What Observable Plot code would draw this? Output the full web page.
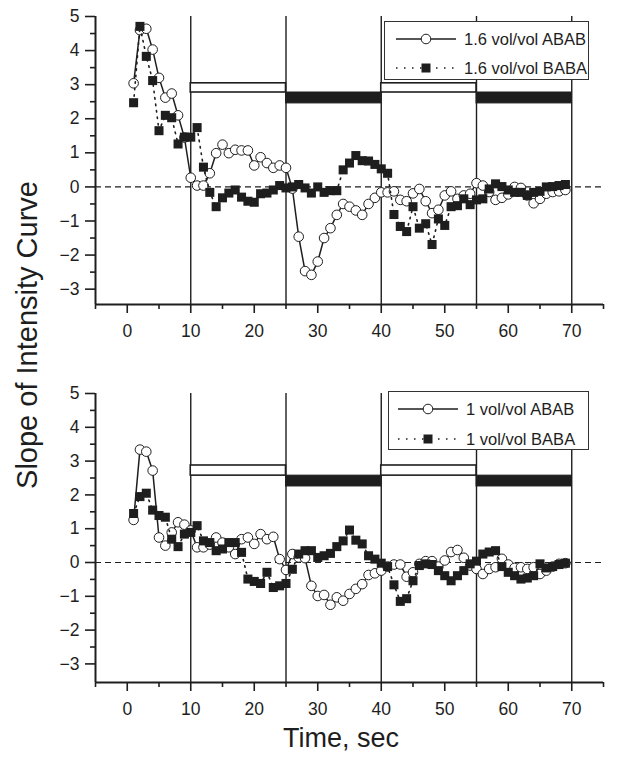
<!DOCTYPE html>
<html>
<head>
<meta charset="utf-8">
<script src="https://cdn.jsdelivr.net/npm/d3@7"></script>
<script src="https://cdn.jsdelivr.net/npm/@observablehq/plot@0.6"></script>
<style>
  html, body { margin: 0; padding: 0; background: #ffffff; }
  #wrap { position: relative; width: 643px; height: 758px; font-family: "Liberation Sans", Arial, sans-serif; color: #1e1e1e; overflow: hidden; }
  .panel { position: absolute; left: 0; }
  .legend { position: absolute; background: #fff; border: 1.4px solid #333; box-sizing: border-box; z-index: 5; }
  .row { position: absolute; left: 0; height: 24px; display: flex; align-items: center; font-size: 16.5px; white-space: nowrap; }
  .row svg { display: block; }
  .ytitle { position: absolute; left: 27px; top: 335px; transform: translate(-50%, -50%) rotate(-90deg); font-size: 29px; white-space: nowrap; }
  .xtitle { position: absolute; left: 341px; top: 738px; transform: translate(-50%, -50%); font-size: 27px; white-space: nowrap; }
</style>
</head>
<body>
<div id="wrap">
  <div class="ytitle">Slope of Intensity Curve</div>
  <div class="xtitle">Time, sec</div>
</div>
<script>
// ---------- data ----------
const seconds = [1,2,3,4,5,6,7,8,9,10,11,12,13,14,15,16,17,18,19,20,21,22,23,24,25,26,27,28,29,30,31,32,33,34,35,36,37,38,39,40,41,42,43,44,45,46,47,48,49,50,51,52,53,54,55,56,57,58,59,60,61,62,63,64,65,66,67,68,69];

const topABAB = [3.04,4.60,4.64,4.03,3.20,2.62,2.74,2.10,1.45,0.27,0.04,0.04,0.40,0.99,1.24,0.99,1.09,1.07,1.07,0.63,0.87,0.70,0.56,0.63,0.56,-0.05,-1.46,-2.47,-2.58,-2.19,-1.50,-1.21,-0.82,-0.50,-0.58,-0.69,-0.82,-0.50,-0.32,-0.16,-0.16,-0.13,-0.38,-0.42,-0.19,-0.06,-0.42,-0.77,-0.67,-0.25,-0.13,-0.35,-0.25,-0.20,0.11,0.04,-0.15,-0.38,-0.32,-0.22,0.00,-0.03,-0.25,-0.48,-0.35,-0.20,-0.15,-0.13,-0.09];
const topBABA = [2.47,4.71,3.83,3.12,1.65,2.10,2.03,1.26,1.46,1.46,1.74,0.58,-0.16,-0.58,-0.32,-0.18,-0.09,-0.30,-0.42,-0.45,-0.20,-0.18,-0.09,0.04,-0.03,0.00,0.07,-0.03,-0.18,0.00,-0.16,-0.11,-0.11,0.50,0.70,0.92,0.77,0.76,0.66,0.53,0.40,-0.81,-1.16,-1.31,-0.58,-1.21,-1.08,-1.69,-0.94,-1.13,-0.58,-0.55,-0.35,-0.52,-0.38,-0.35,-0.06,0.09,0.01,-0.09,-0.16,-0.16,-0.25,-0.16,-0.13,0.00,0.01,0.04,0.07];

const bottomABAB = [1.26,3.34,3.28,2.72,0.74,0.50,0.89,1.19,1.12,0.95,0.45,0.45,0.53,0.74,0.59,0.45,0.25,0.69,0.74,0.55,0.84,0.69,0.76,0.10,-0.22,0.25,0.15,0.13,-0.69,-0.99,-0.96,-1.25,-1.03,-1.13,-0.93,-0.78,-0.64,-0.37,-0.32,-0.24,-0.12,-0.06,-0.06,-0.42,-0.29,-0.04,0.04,0.04,-0.12,0.06,0.31,0.37,0.14,-0.09,-0.19,-0.34,-0.19,-0.14,0.11,-0.06,-0.16,-0.14,-0.19,-0.14,-0.34,-0.24,-0.12,-0.04,-0.02];
const bottomBABA = [1.45,1.95,2.05,1.55,1.39,1.34,0.69,0.47,0.84,0.89,1.09,0.64,0.59,0.35,0.40,0.59,0.59,0.30,-0.49,-0.56,-0.62,-0.29,-0.74,-0.69,-0.62,-0.20,0.25,0.35,0.35,0.15,0.20,0.27,0.47,0.64,0.96,0.66,0.55,0.20,0.10,-0.02,-0.12,-0.66,-1.15,-1.07,-0.54,-0.09,-0.04,-0.06,-0.24,-0.39,-0.54,-0.39,-0.24,-0.04,0.04,0.25,0.31,0.35,-0.12,-0.29,-0.39,-0.49,-0.46,-0.39,-0.04,-0.16,-0.12,-0.06,-0.02];

const phaseBoundaries = [10, 25, 40, 55, 70];
const openPhaseStart = [10, 40];
const openPhaseEnd = [25, 55];
const filledPhaseStart = [25, 55];
const filledPhaseEnd = [40, 70];

const xMajorTicks = [0, 10, 20, 30, 40, 50, 60, 70];
const xMinorTicks = [-5, 5, 15, 25, 35, 45, 55, 65, 75];
const yMajorTicks = [-3, -2, -1, 0, 1, 2, 3, 4, 5];
const yMinorTicks = [-2.5, -1.5, -0.5, 0.5, 1.5, 2.5, 3.5, 4.5];

const topLegend = ["1.6 vol/vol ABAB", "1.6 vol/vol BABA"];
const bottomLegend = ["1 vol/vol ABAB", "1 vol/vol BABA"];

// ---------- drawing ----------
(function () {
const ink = "#1e1e1e";
const font = "'Liberation Sans', Arial, sans-serif";

function panel(cfg) {
  const abab = seconds.map((t, i) => ({t, v: cfg.abab[i]}));
  const baba = seconds.map((t, i) => ({t, v: cfg.baba[i]}));
  const openBars = openPhaseStart.map((s, i) => ({s, e: openPhaseEnd[i], lo: cfg.openLevel[0], hi: cfg.openLevel[1]}));
  const filledBars = filledPhaseStart.map((s, i) => ({s, e: filledPhaseEnd[i], lo: cfg.filledLevel[0], hi: cfg.filledLevel[1]}));
  return Plot.plot({
    width: 643,
    height: cfg.height,
    marginLeft: 95,
    marginRight: 40,
    marginTop: cfg.marginTop,
    marginBottom: cfg.marginBottom,
    x: {domain: [-5, 75]},
    y: {domain: [cfg.yMin, 5]},
    style: {fontFamily: font, fontSize: "17.5px", color: ink, background: "transparent", overflow: "visible"},
    marks: [
      Plot.ruleY([0], {stroke: ink, strokeWidth: 1.2, strokeDasharray: "6,4"}),
      Plot.ruleX(phaseBoundaries, {stroke: ink, strokeWidth: 1.4}),
      Plot.rect(openBars, {x1: "s", x2: "e", y1: "lo", y2: "hi", fill: "white", stroke: ink, strokeWidth: 1.6}),
      Plot.rect(filledBars, {x1: "s", x2: "e", y1: "lo", y2: "hi", fill: ink, stroke: ink, strokeWidth: 1}),
      Plot.line(abab, {x: "t", y: "v", stroke: ink, strokeWidth: 1.5}),
      Plot.dot(abab, {x: "t", y: "v", r: 4.8, fill: "white", stroke: ink, strokeWidth: 1}),
      Plot.line(baba, {x: "t", y: "v", stroke: ink, strokeWidth: 1.6, strokeDasharray: "1.5,5"}),
      Plot.dot(baba, {x: "t", y: "v", symbol: "square", r: 5.1, fill: ink, stroke: "none"}),
      Plot.ruleX([-5], {y1: cfg.yMin, y2: 5, stroke: ink, strokeWidth: 2}),
      Plot.ruleY([cfg.yMin], {x1: -5, x2: 75, stroke: ink, strokeWidth: 2}),
      Plot.axisY({ticks: yMajorTicks, tickSize: 10, tickPadding: 6, fontSize: 17.5, strokeWidth: 1.6, label: null}),
      Plot.axisY({ticks: yMinorTicks, tickSize: 5, tickFormat: () => "", strokeWidth: 1.6, label: null}),
      Plot.axisX({ticks: xMajorTicks, tickSize: 9, tickPadding: 11, fontSize: 17.5, strokeWidth: 1.6, label: null}),
      Plot.axisX({ticks: xMinorTicks, tickSize: 5, tickFormat: () => "", strokeWidth: 1.6, label: null})
    ]
  });
}

function legend(labels, box) {
  const div = document.createElement("div");
  div.className = "legend";
  div.style.left = box.left + "px";
  div.style.top = box.top + "px";
  div.style.width = box.width + "px";
  div.style.height = box.height + "px";
  const ns = "http://www.w3.org/2000/svg";
  labels.forEach((label, i) => {
    const row = document.createElement("div");
    row.className = "row";
    row.style.top = (box.rows[i] - 12) + "px";
    const svg = document.createElementNS(ns, "svg");
    svg.setAttribute("width", box.sampleWidth);
    svg.setAttribute("height", 24);
    const ln = document.createElementNS(ns, "line");
    ln.setAttribute("x1", box.lineStart); ln.setAttribute("x2", box.lineStart + 60);
    ln.setAttribute("y1", 12); ln.setAttribute("y2", 12);
    ln.setAttribute("stroke", ink);
    ln.setAttribute("stroke-width", 1.5);
    if (i === 1) ln.setAttribute("stroke-dasharray", "1.5,6.5");
    svg.appendChild(ln);
    const cx = box.lineStart + 30;
    if (i === 0) {
      const c = document.createElementNS(ns, "circle");
      c.setAttribute("cx", cx); c.setAttribute("cy", 12); c.setAttribute("r", 4.8);
      c.setAttribute("fill", "white"); c.setAttribute("stroke", ink); c.setAttribute("stroke-width", 1);
      svg.appendChild(c);
    } else {
      const r = document.createElementNS(ns, "rect");
      r.setAttribute("x", cx - 4.5); r.setAttribute("y", 7.5); r.setAttribute("width", 9); r.setAttribute("height", 9);
      r.setAttribute("fill", ink);
      svg.appendChild(r);
    }
    row.appendChild(svg);
    const span = document.createElement("span");
    span.textContent = label;
    row.appendChild(span);
    div.appendChild(row);
  });
  return div;
}

const wrap = document.getElementById("wrap");

const topChart = panel({abab: topABAB, baba: topBABA, yMin: -3.45, openLevel: [2.77, 3.04], filledLevel: [2.45, 2.77], height: 345, marginTop: 16, marginBottom: 41});
topChart.classList.add("panel");
topChart.style.top = "0px";
wrap.appendChild(topChart);

const bottomChart = panel({abab: bottomABAB, baba: bottomBABA, yMin: -3.55, openLevel: [2.57, 2.87], filledLevel: [2.25, 2.57], height: 413, marginTop: 48, marginBottom: 76});
bottomChart.classList.add("panel");
bottomChart.style.top = "345px";
wrap.appendChild(bottomChart);

wrap.appendChild(legend(topLegend, {left: 384, top: 21, width: 205, height: 59, rows: [17, 46], lineStart: 11, sampleWidth: 79}));
wrap.appendChild(legend(bottomLegend, {left: 388, top: 391, width: 201, height: 59, rows: [17, 47], lineStart: 9, sampleWidth: 77}));
})();
</script>
</body>
</html>
